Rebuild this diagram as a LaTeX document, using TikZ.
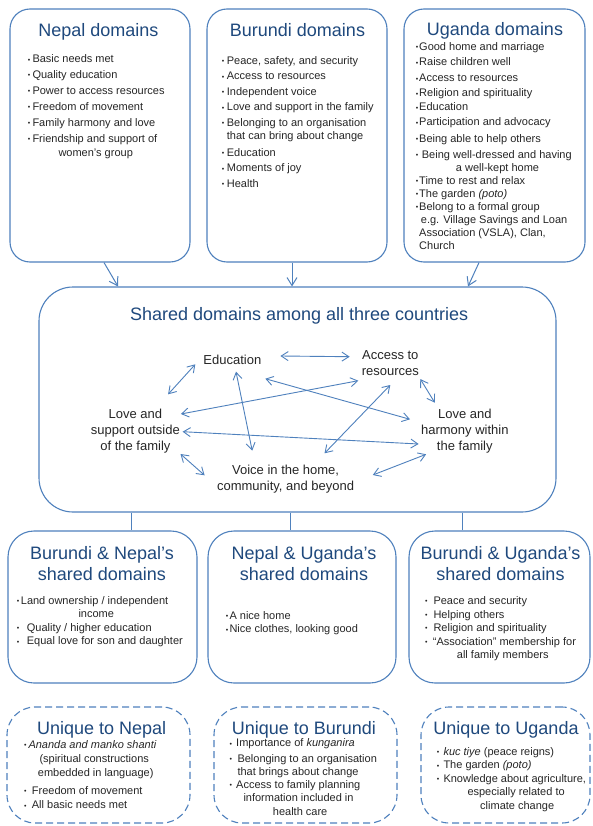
\documentclass[tikz,border=0pt]{standalone}
\usepackage{fontspec}
\setmainfont{Liberation Sans}
\usetikzlibrary{arrows.meta,calc}
\definecolor{boxblue}{RGB}{79,129,189}
\definecolor{titleblue}{RGB}{31,73,125}
\definecolor{txt}{RGB}{38,38,38}
\newcommand\bux[1]{\makebox[#1][l]{\fontsize{7}{7}\selectfont\raisebox{0.7pt}{•}}}
\newcommand\tl[1]{\begin{tabular}[t]{@{}l@{}}#1\end{tabular}}
\newcommand\tc[1]{\begin{tabular}[t]{@{}c@{}}#1\end{tabular}}
\begin{document}
\begin{tikzpicture}[x=1pt,y=-1pt,
  sbox/.style={draw=boxblue, line width=1.1pt, fill=white, inner sep=0pt},
  dbox/.style={sbox, dash pattern=on 7pt off 4pt},
  ttl/.style={text=titleblue, font=\fontsize{18}{21.3}\selectfont, inner sep=0pt, anchor=base},
  lst/.style={text=txt, inner sep=0pt, anchor=base west},
  dom/.style={text=txt, font=\fontsize{13}{16.2}\selectfont, inner sep=0pt, anchor=base},
  con/.style={draw=boxblue, line width=1pt, -{Straight Barb[length=8pt,width=10pt]}},
  lnk/.style={draw=boxblue, line width=1pt},
  dbl/.style={draw=boxblue, line width=0.9pt, {Straight Barb[length=7pt,width=9pt]}-{Straight Barb[length=7pt,width=9pt]}}
]
\fill[white] (0,0) rectangle (592,826);
\useasboundingbox (0,0) rectangle (592,826);

% ---------- top boxes ----------
\node[sbox, rounded corners=20pt, minimum width=180pt, minimum height=253pt] (nepal) at (100,135.5) {};
\node[sbox, rounded corners=20pt, minimum width=180pt, minimum height=253pt] (burundi) at (297,135.5) {};
\node[sbox, rounded corners=20pt, minimum width=181pt, minimum height=253pt] (uganda) at (494.5,135.5) {};

\node[ttl] (nt) at (98.3,37) {Nepal domains};
\node[ttl] (bt) at (297.5,37) {Burundi domains};
\node[ttl] (ut) at (495,36) {Uganda domains};

\node[lst, font=\fontsize{11}{15.9}\selectfont] (nl) at (27.7,62.8) {\tl{%
\bux{4.6pt}Basic needs met\\
\bux{4.6pt}Quality education\\
\bux{4.6pt}Power to access resources\\
\bux{4.6pt}Freedom of movement\\
\bux{4.6pt}Family harmony and love\\
\bux{4.6pt}Friendship and support of\\[-1.3pt]
\hspace*{30.6pt}women’s group}};

\node[lst, font=\fontsize{11}{15.5}\selectfont] (bl) at (221.7,64.5) {\tl{%
\bux{5pt}Peace, safety, and security\\
\bux{5pt}Access to resources\\
\bux{5pt}Independent voice\\
\bux{5pt}Love and support in the family\\
\bux{5pt}Belonging to an organisation\\[-2.8pt]
\hspace*{5pt}that can bring about change\\[1.8pt]
\bux{5pt}Education\\
\bux{5pt}Moments of joy\\
\bux{5pt}Health}};

\node[lst, font=\fontsize{11}{13}\selectfont] (ul) at (415.7,50.2) {\tl{%
\bux{3.3pt}Good home and marriage\\[2.6pt]
\bux{3.3pt}Raise children well\\[3pt]
\bux{3.3pt}Access to resources\\[2pt]
\bux{3.3pt}Religion and spirituality\\[1pt]
\bux{3.3pt}Education\\[2pt]
\bux{3.3pt}Participation and advocacy\\[3.4pt]
\bux{3.3pt}Being able to help others\\[3pt]
\bux{6pt}Being well-dressed and having\\
\hspace*{40pt}a well-kept home\\
\bux{3.3pt}Time to rest and relax\\
\bux{3.3pt}The garden \textit{(poto)}\\
\bux{3.3pt}Belong to a formal group\\
\hspace*{5pt}e.g. Village Savings and Loan\\
\hspace*{3.3pt}Association (VSLA), Clan,\\
\hspace*{3.3pt}Church}};

% ---------- shared box ----------
\node[sbox, rounded corners=34pt, minimum width=517pt, minimum height=225pt] (shared) at (297.5,399.5) {};
\node[ttl] (st) at (299.2,320) {Shared domains among all three countries};

\node[dom] (edu) at (232.4,364.3) {Education};
\node[dom] (acc) at (390.3,359.3) {\tc{Access to\\resources}};
\node[dom] (lsup) at (135.4,418) {\tc{Love and\\support outside\\of the family}};
\node[dom] (lhar) at (464.8,418) {\tc{Love and\\harmony within\\the family}};
\node[dom] (voice) at (285.6,474) {\tc{Voice in the home,\\community, and beyond}};

\draw[dbl] ($(edu.base)+(48,-8.3)$) -- ($(acc.base)+(-40.6,-2.6)$);
\draw[dbl] ($(edu.base)+(-37.1,0)$) -- ($(lsup.base)+(32.7,-23.7)$);
\draw[dbl] ($(edu.base)+(3.6,7.4)$) -- ($(voice.base)+(-33.4,-23.3)$);
\draw[dbl] ($(edu.base)+(32.9,14.4)$) -- ($(lhar.base)+(-54.8,1.3)$);
\draw[dbl] ($(acc.base)+(-32,21.4)$) -- ($(lsup.base)+(45.5,-4)$);
\draw[dbl] ($(acc.base)+(0,25.7)$) -- ($(voice.base)+(38.9,-20.7)$);
\draw[dbl] ($(acc.base)+(30,19.7)$) -- ($(lhar.base)+(-30,-15.3)$);
\draw[dbl] ($(lsup.base)+(47.2,13.7)$) -- ($(lhar.base)+(-46.2,26)$);
\draw[dbl] ($(lsup.base)+(45.1,36)$) -- ($(voice.base)+(-81,1.3)$);
\draw[dbl] ($(voice.base)+(87.2,1)$) -- ($(lhar.base)+(-38.7,36.3)$);

% top connectors
\draw[con] ($(nepal.south)+(4,0)$) -- ($(shared.north)+(-179.5,0)$);
\draw[con] ($(burundi.south)+(-5,0)$) -- ($(shared.north)+(-5.5,0)$);
\draw[con] ($(uganda.south)+(-15.5,0)$) -- ($(shared.north)+(170.5,0)$);

% ---------- pairwise boxes ----------
\node[sbox, rounded corners=26pt, minimum width=189pt, minimum height=152pt] (bn) at (102.5,607) {};
\node[sbox, rounded corners=26pt, minimum width=188pt, minimum height=152pt] (nu) at (302,607) {};
\node[sbox, rounded corners=26pt, minimum width=181pt, minimum height=152pt] (bu) at (499.5,607) {};

\draw[lnk] ($(shared.south)+(-165.8,0)$) -- ($(bn.north)+(29.2,0)$);
\draw[lnk] ($(shared.south)+(-7.5,0)$) -- ($(nu.north)+(-12,0)$);
\draw[lnk] ($(shared.south)+(164.8,0)$) -- ($(bu.north)+(-37.2,0)$);

\node[ttl] (bnt) at (102,559.3) {\tc{Burundi \& Nepal’s\\shared domains}};
\node[ttl] (nut) at (304,559.3) {\tc{Nepal \& Uganda’s\\shared domains}};
\node[ttl] (but) at (500.5,559.3) {\tc{Burundi \& Uganda’s\\shared domains}};

\node[lst, font=\fontsize{11}{13.5}\selectfont] (bnl) at (16.7,604.2) {\tl{%
\bux{4pt}Land ownership / independent\\
\hspace*{61.6pt}income\\
\bux{10pt}Quality / higher education\\
\bux{10pt}Equal love for son and daughter}};

\node[lst, font=\fontsize{11}{13.6}\selectfont] (nul) at (225.7,619.2) {\tl{%
\bux{3.6pt}A nice home\\
\bux{3.6pt}Nice clothes, looking good}};

\node[lst, font=\fontsize{11}{13.5}\selectfont] (bul) at (425,604.5) {\tl{%
\bux{8.3pt}Peace and security\\
\bux{8.3pt}Helping others\\
\bux{8.3pt}Religion and spirituality\\
\bux{7.7pt}“Association” membership for\\
\hspace*{31.7pt}all family members}};

% ---------- unique boxes ----------
\node[dbox, rounded corners=28pt, minimum width=183pt, minimum height=116pt] (un) at (98.5,765) {};
\node[dbox, rounded corners=28pt, minimum width=183pt, minimum height=116pt] (ub) at (305.5,765) {};
\node[dbox, rounded corners=28pt, minimum width=169pt, minimum height=116pt] (uu) at (505.5,765) {};

\node[ttl] (unt) at (101.7,734) {Unique to Nepal};
\node[ttl] (ubt) at (303.8,734) {Unique to Burundi};
\node[ttl] (uut) at (506,734) {Unique to Uganda};

\node[lst, font=\fontsize{11}{14}\selectfont] (unl) at (24,748.5) {\tl{%
\bux{4.3pt}\textit{Ananda and manko shanti}\\[0.3pt]
\hspace*{15.3pt}(spiritual constructions\\[-0.6pt]
\hspace*{13.7pt}embedded in language)\\[4pt]
\bux{7.7pt}Freedom of movement\\[0.6pt]
\bux{7.7pt}All basic needs met}};

\node[lst, font=\fontsize{11}{13.3}\selectfont] (ubl) at (229.3,746.8) {\tl{%
\bux{6.7pt}Importance of \textit{kunganira}\\[2.4pt]
\bux{8pt}Belonging to an organisation\\[-0.6pt]
\hspace*{8pt}that brings about change\\
\bux{6.7pt}Access to family planning\\
\hspace*{14pt}information included in\\
\hspace*{43.4pt}health care}};

\node[lst, font=\fontsize{11}{13.5}\selectfont] (uul) at (436.7,755.2) {\tl{%
\bux{6.6pt}\textit{kuc tiye} (peace reigns)\\
\bux{6.6pt}The garden \textit{(poto)}\\
\bux{6.6pt}Knowledge about agriculture,\\
\hspace*{30.6pt}especially related to\\
\hspace*{43.3pt}climate change}};
\end{tikzpicture}
\end{document}
